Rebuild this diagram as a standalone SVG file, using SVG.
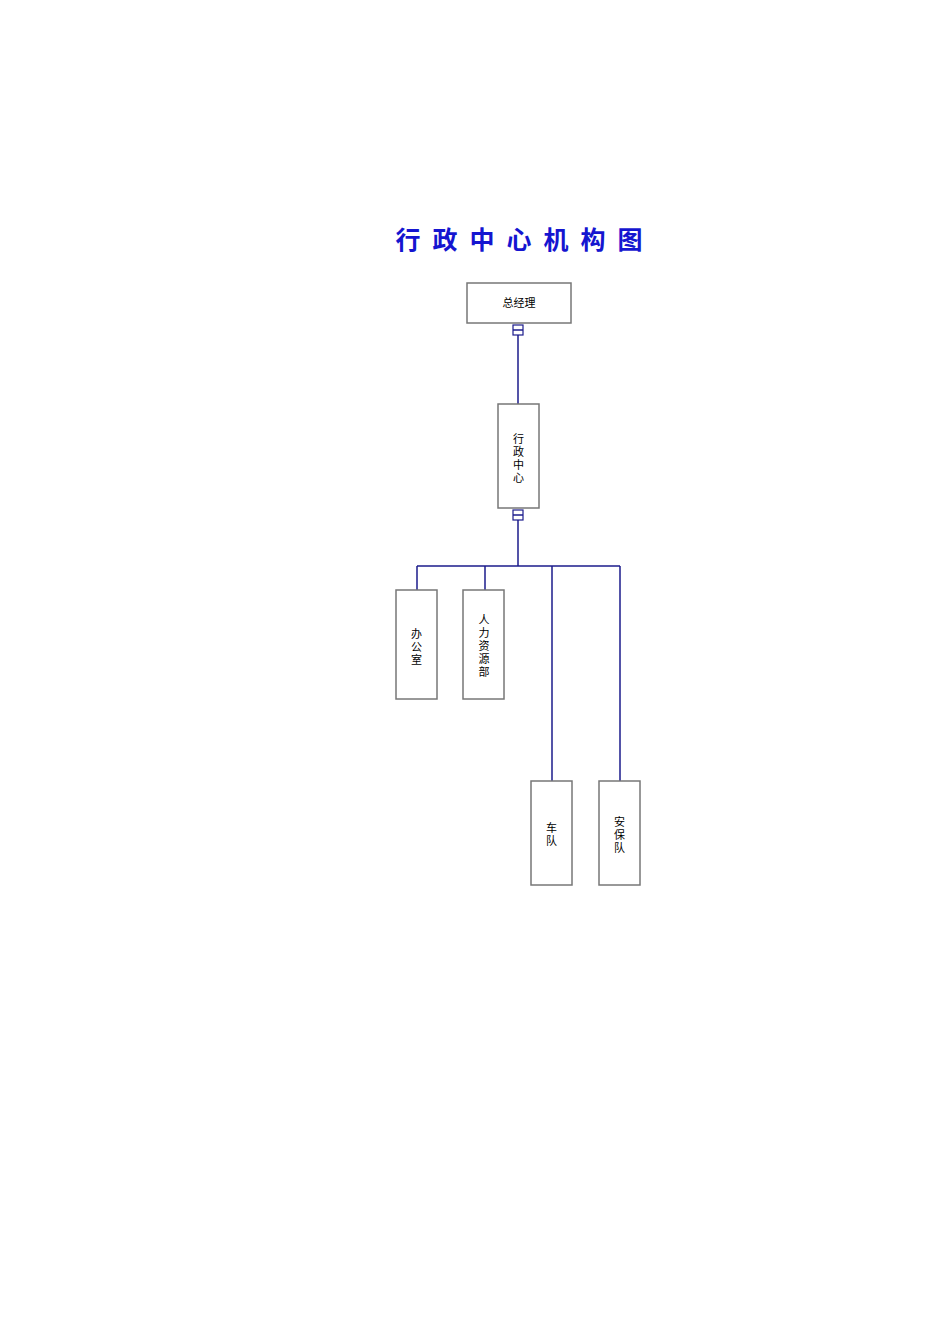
<svg xmlns="http://www.w3.org/2000/svg" width="950" height="1344" viewBox="0 0 950 1344">
<style>
.box{fill:#fff;stroke:#777;stroke-width:1.5}
.t{font-family:"Liberation Sans","Noto Sans CJK SC",sans-serif;font-size:11px;fill:#000;text-anchor:middle}
.ln{stroke:#1c1c8c;stroke-width:1.5;fill:none}
.mk{fill:#fff;stroke:#1c1c8c;stroke-width:1.2}
</style>
<rect width="950" height="1344" fill="#fff"/>
<text x="525" y="249" font-family="'Noto Sans CJK SC',sans-serif" font-size="25" font-weight="bold" fill="#1515d0" text-anchor="middle" letter-spacing="12">行政中心机构图</text>
<g id="connectors">
<path class="ln" d="M518 335V404M518 520V566M417 566H620M417 566V590M485 566V590M552 566V781M620 566V781"/>
<rect class="mk" x="513" y="325" width="10" height="10"/><path class="ln" d="M513 330H523"/>
<rect class="mk" x="513" y="510" width="10" height="10"/><path class="ln" d="M513 515H523"/>
</g>
<g id="n1"><rect class="box" x="467" y="283" width="104" height="40"/><text class="t" x="519" y="307">总经理</text></g>
<g id="n2"><rect class="box" x="498" y="404" width="41" height="104"/><text class="t" x="518.5"><tspan x="518.5" y="443">行</tspan><tspan x="518.5" y="456">政</tspan><tspan x="518.5" y="469">中</tspan><tspan x="518.5" y="482">心</tspan></text></g>
<g id="n3"><rect class="box" x="396" y="590" width="41" height="109"/><text class="t"><tspan x="416.5" y="638">办</tspan><tspan x="416.5" y="651">公</tspan><tspan x="416.5" y="664">室</tspan></text></g>
<g id="n4"><rect class="box" x="463" y="590" width="41" height="109"/><text class="t"><tspan x="484" y="624">人</tspan><tspan x="484" y="637">力</tspan><tspan x="484" y="650">资</tspan><tspan x="484" y="663">源</tspan><tspan x="484" y="676">部</tspan></text></g>
<g id="n5"><rect class="box" x="531" y="781" width="41" height="104"/><text class="t"><tspan x="551.5" y="832">车</tspan><tspan x="551.5" y="845">队</tspan></text></g>
<g id="n6"><rect class="box" x="599" y="781" width="41" height="104"/><text class="t"><tspan x="619.5" y="826">安</tspan><tspan x="619.5" y="839">保</tspan><tspan x="619.5" y="852">队</tspan></text></g>
</svg>
